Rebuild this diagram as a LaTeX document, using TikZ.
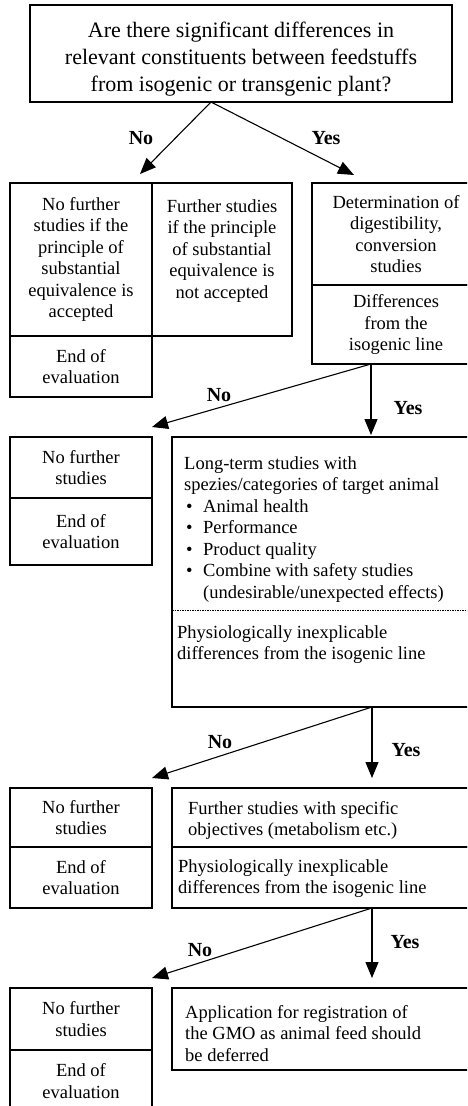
\documentclass[tikz,border=0pt]{standalone}
\usepackage{fontspec}
\setmainfont{Liberation Serif}
\usetikzlibrary{arrows.meta}
\newcommand\bulitem{\makebox[19pt][l]{\hspace{2pt}\textbullet}}
\begin{document}
\begin{tikzpicture}[x=1pt,y=-1pt,
  cell/.style={draw, line width=1.2pt, anchor=north west, inner sep=0pt, outer sep=0pt,
    font=\fontsize{18.5}{21.5}\selectfont, align=center},
  txt/.style={inner sep=0pt, font=\fontsize{18.5}{21.5}\selectfont, align=center, anchor=north},
  ltxt/.style={inner sep=0pt, font=\fontsize{18.5}{21.5}\selectfont, align=left, anchor=north west},
  lbl/.style={inner sep=0pt, font=\fontsize{20}{24}\selectfont\bfseries},
  arr/.style={line width=1.1pt, -{Triangle[length=16pt,width=13pt]}},
  divider/.style={line width=0.6pt, dash pattern=on 1.5pt off 1pt}
]
\useasboundingbox (0,0) rectangle (467,1106);
\clip (0,0) rectangle (467,1106);

% level 1
\node[cell, minimum width=422pt, minimum height=97pt] (q) at (30,5) {};
\node[txt, font=\fontsize{22}{27}\selectfont] (qt) at (241,22)
  {Are there significant differences in\\relevant constituents between feedstuffs\\from isogenic or transgenic plant?};

% level 2
\node[cell, minimum width=142pt, minimum height=153pt] (b2a) at (10,183)
  {No further\\studies if the\\principle of\\substantial\\equivalence is\\accepted};
\node[cell, minimum width=140pt, minimum height=153pt] (b2b) at (152,183) {};
\node[txt] (b2bt) at (222,199) {Further studies\\if the principle\\of substantial\\equivalence is\\not accepted};
\node[cell, minimum width=142pt, minimum height=61pt] (b2c) at (10,336) {End of\\evaluation};
\node[cell, minimum width=168pt, minimum height=102pt] (b2d) at (312,183)
  {Determination of\\digestibility,\\conversion\\studies};
\node[cell, minimum width=168pt, minimum height=79pt] (b2e) at (312,285)
  {Differences\\from the\\isogenic line};

% level 3
\node[cell, minimum width=142pt, minimum height=61pt] (b3a) at (10,437) {No further\\studies};
\node[cell, minimum width=142pt, minimum height=67pt] (b3b) at (10,498) {End of\\evaluation};
\node[cell, minimum width=308pt, minimum height=270pt] (b3) at (172,437) {};
\coordinate (d3) at (0,610);
\draw[divider] (b3.west |- d3) -- (b3.east |- d3);
\node[ltxt] (b3t) at (184,456)
  {Long-term studies with\\
   spezies/categories of target animal\\
   \bulitem Animal health\\
   \bulitem Performance\\
   \bulitem Product quality\\
   \bulitem Combine with safety studies\\
   \hspace*{19pt}(undesirable/unexpected effects)};
\node[ltxt] (b3p) at (177,625) {Physiologically inexplicable\\differences from the isogenic line};

% level 4
\node[cell, minimum width=142pt, minimum height=59pt] (b4a) at (10,788) {No further\\studies};
\node[cell, minimum width=142pt, minimum height=61pt] (b4b) at (10,847) {End of\\evaluation};
\node[cell, minimum width=308pt, minimum height=59pt] (b4c) at (172,788) {};
\node[ltxt] (b4ct) at (188,801) {Further studies with specific\\objectives (metabolism etc.)};
\node[cell, minimum width=308pt, minimum height=61pt] (b4d) at (172,847) {};
\node[ltxt] (b4dt) at (178,859) {Physiologically inexplicable\\differences from the isogenic line};

% level 5
\node[cell, minimum width=142pt, minimum height=62pt] (b5a) at (10,988) {No further\\studies};
\node[cell, minimum width=142pt, minimum height=62pt] (b5b) at (10,1050) {End of\\evaluation};
\node[cell, minimum width=308pt, minimum height=82pt] (b5c) at (172,988) {};
\node[ltxt] (b5ct) at (185,1005) {Application for registration of\\the GMO as animal feed should\\be deferred};

% arrows level 1
\coordinate (s1) at ([xshift=-30pt]q.south);
\coordinate (n1) at (140,174);
\coordinate (y1) at (354,175);
\draw[arr] (s1) -- (n1);
\draw[arr] (s1) -- (y1);
\node[lbl] (ln1) at (141,138) {No};
\node[lbl] (ly1) at (326,138) {Yes};

% arrows level 2
\coordinate (s2) at ([xshift=-25pt]b2e.south);
\coordinate (n2) at (152,427);
\coordinate (y2) at (371,435);
\draw[arr] (s2) -- (n2);
\draw[arr] (s2) -- (y2);
\node[lbl] (ln2) at (219,395) {No};
\node[lbl] (ly2) at (408,408) {Yes};

% arrows level 3
\coordinate (s3) at ([xshift=-108pt]b3.south east);
\coordinate (n3) at (152,778);
\coordinate (y3) at (372,778);
\draw[arr] (s3) -- (n3);
\draw[arr] (s3) -- (y3);
\node[lbl] (ln3) at (220,742) {No};
\node[lbl] (ly3) at (406,750) {Yes};

% arrows level 4
\coordinate (s4) at ([xshift=-108pt]b4d.south east);
\coordinate (n4) at (152,978);
\coordinate (y4) at (372,978);
\draw[arr] (s4) -- (n4);
\draw[arr] (s4) -- (y4);
\node[lbl] (ln4) at (200,950) {No};
\node[lbl] (ly4) at (405,942) {Yes};
\end{tikzpicture}
\end{document}
